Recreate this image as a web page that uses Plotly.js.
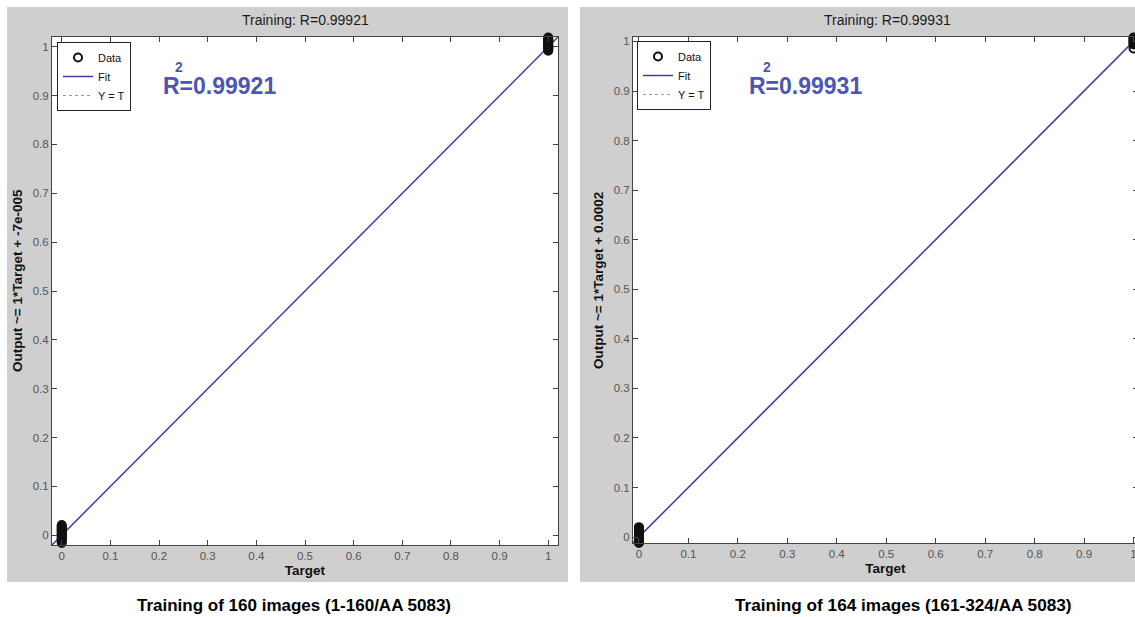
<!DOCTYPE html>
<html>
<head>
<meta charset="utf-8">
<script src="https://cdn.plot.ly/plotly-3.0.1.min.js"></script>
<style>
html, body { margin: 0; padding: 0; overflow: hidden; background: #ffffff; }
#chart { width: 1145px; height: 617px; }
</style>
</head>
<body>
<div id="chart"></div>
<script>
// ---- data ----
const tickValues = [0, 0.1, 0.2, 0.3, 0.4, 0.5, 0.6, 0.7, 0.8, 0.9, 1];
const tickLabels = ["0", "0.1", "0.2", "0.3", "0.4", "0.5", "0.6", "0.7", "0.8", "0.9", "1"];

// Left panel (160 images)
const leftTargets = [0,0,0,0,0,0,0,0,0,0,0,0,0,0,0,0,0,0,0,
                     1,1,1,1,1,1,1,1,1,1,1,1,1,1,1,1];
const leftOutputs = [-0.016,-0.013,-0.010,-0.008,-0.006,-0.004,-0.002,0.000,0.001,0.003,0.005,0.007,0.009,0.011,0.013,0.015,0.017,0.019,0.021,
                     0.992,0.994,0.996,0.998,0.999,1.000,1.001,1.003,1.005,1.007,1.009,1.011,1.013,1.015,1.017,1.019];
const leftFitX = [-0.02, 1.02];
const leftFitY = [-0.02007, 1.01993];
const leftIdentX = [-0.02, 1.02];
const leftIdentY = [-0.02, 1.02];
const leftTitle = "Training: R=0.99921";
const leftR2 = "R=0.99921";
const leftYTitle = "Output ~= 1*Target + -7e-005";
const leftCaption = "Training of 160 images (1-160/AA 5083)";

// Right panel (164 images)
const rightTargets = [0,0,0,0,0,0,0,0,0,0,0,0,0,0,0,0,0,0,
                      1,1,1,1,1,1,1,1,1,1];
const rightOutputs = [-0.014,-0.012,-0.010,-0.008,-0.006,-0.004,-0.002,0.000,0.002,0.004,0.006,0.008,0.010,0.012,0.014,0.016,0.018,0.020,
                      0.986,0.994,0.996,0.998,1.000,1.002,1.004,1.006,1.008,1.010];
const rightFitX = [-0.012, 1.009];
const rightFitY = [-0.0118, 1.0092];
const rightIdentX = [-0.012, 1.009];
const rightIdentY = [-0.012, 1.009];
const rightTitle = "Training: R=0.99931";
const rightR2 = "R=0.99931";
const rightYTitle = "Output ~= 1*Target + 0.0002";
const rightCaption = "Training of 164 images (161-324/AA 5083)";

// ---- layout helpers ----
const W = 1145, H = 617;
const px = v => v / W;
const py = v => 1 - v / H;
const FONT = "Liberation Sans, Arial, Helvetica, sans-serif";
const fitColor = "#3c3ca6";
const r2Color = "#4b56b6";
const panelGray = "#cfcfcf";

function axisBase(domain, range) {
  return {
    domain: domain, range: range, tickmode: "array",
    tickvals: tickValues, ticktext: tickLabels,
    ticks: "inside", ticklen: 5, tickwidth: 1, tickcolor: "#444",
    showline: true, linecolor: "#444", linewidth: 1, mirror: "ticks",
    showgrid: false, zeroline: false,
    tickfont: { family: FONT, size: 11.5, color: "#555" }
  };
}

const traces = [
  { x: leftIdentX, y: leftIdentY, type: "scatter", mode: "lines", name: "Y = T",
    line: { color: "#999", width: 1, dash: "dot" }, xaxis: "x", yaxis: "y", legend: "legend", legendrank: 3 },
  { x: leftFitX, y: leftFitY, type: "scatter", mode: "lines", name: "Fit",
    line: { color: fitColor, width: 1.5 }, xaxis: "x", yaxis: "y", legend: "legend", legendrank: 2 },
  { x: leftTargets, y: leftOutputs, type: "scatter", mode: "markers", name: "Data", cliponaxis: false,
    marker: { symbol: "circle-open", size: 8, color: "#111", line: { width: 2 } },
    xaxis: "x", yaxis: "y", legend: "legend", legendrank: 1 },

  { x: rightIdentX, y: rightIdentY, type: "scatter", mode: "lines", name: "Y = T",
    line: { color: "#999", width: 1, dash: "dot" }, xaxis: "x2", yaxis: "y2", legend: "legend2", legendrank: 3 },
  { x: rightFitX, y: rightFitY, type: "scatter", mode: "lines", name: "Fit",
    line: { color: fitColor, width: 1.5 }, xaxis: "x2", yaxis: "y2", legend: "legend2", legendrank: 2 },
  { x: rightTargets, y: rightOutputs, type: "scatter", mode: "markers", name: "Data", cliponaxis: false,
    marker: { symbol: "circle-open", size: 8, color: "#111", line: { width: 2 } },
    xaxis: "x2", yaxis: "y2", legend: "legend2", legendrank: 1 }
];

const legendStyle = (x, y) => ({
  x: x, y: y, xanchor: "left", yanchor: "top", xref: "paper", yref: "paper",
  bgcolor: "#ffffff", bordercolor: "#222", borderwidth: 1,
  font: { family: FONT, size: 11, color: "#111" }, tracegroupgap: 0, itemwidth: 30
});

const titleFont = { family: FONT, size: 13.5, color: "#111" };
const xa1 = axisBase([px(52), px(558)], [-0.02, 1.02]);
xa1.title = { text: "<b>Target</b>", font: titleFont, standoff: 4 };
const ya1 = axisBase([py(545), py(37)], [-0.02, 1.02]);
const xa2 = axisBase([px(633), px(1138)], [-0.012, 1.009]);
xa2.title = { text: "<b>Target</b>", font: titleFont, standoff: 4 };
xa2.anchor = "y2";
const ya2 = axisBase([py(543), py(37)], [-0.012, 1.009]);
ya2.anchor = "x2";

function note(text, x, y, size, color, xanchor, extra) {
  const a = { text: text, xref: "paper", yref: "paper", x: px(x), y: py(y), showarrow: false,
           xanchor: xanchor || "center", yanchor: "middle",
           font: { family: FONT, size: size, color: color } };
  return Object.assign(a, extra || {});
}

const layout = {
  width: W, height: H,
  margin: { l: 0, r: 0, t: 0, b: 0 },
  paper_bgcolor: "#ffffff", plot_bgcolor: "#ffffff",
  font: { family: FONT },
  showlegend: true,
  xaxis: xa1, yaxis: ya1, xaxis2: xa2, yaxis2: ya2,
  legend: legendStyle(px(57), py(42)),
  legend2: legendStyle(px(637), py(41)),
  shapes: [
    { type: "rect", xref: "paper", yref: "paper", x0: px(7), x1: px(568), y0: py(582), y1: py(7),
      fillcolor: panelGray, line: { width: 0 }, layer: "below" },
    { type: "rect", xref: "paper", yref: "paper", x0: px(580), x1: 1, y0: py(582), y1: py(7),
      fillcolor: panelGray, line: { width: 0 }, layer: "below" },
    { type: "rect", xref: "x domain", yref: "y domain", x0: 0, x1: 1, y0: 0, y1: 1,
      fillcolor: "#ffffff", line: { width: 0 }, layer: "below" },
    { type: "rect", xref: "x2 domain", yref: "y2 domain", x0: 0, x1: 1, y0: 0, y1: 1,
      fillcolor: "#ffffff", line: { width: 0 }, layer: "below" }
  ],
  annotations: [
    note(leftTitle, 305, 20, 14, "#1a1a1a"),
    note(rightTitle, 887, 20, 14, "#1a1a1a"),
    note("<b>" + leftYTitle + "</b>", 17, 281, 13.5, "#111", "center", { textangle: -90 }),
    note("<b>" + rightYTitle + "</b>", 598, 281, 13.5, "#111", "center", { textangle: -90 }),
    note("<b>" + leftR2 + "</b>", 162, 86, 23, r2Color, "left", { height: 22, borderpad: 0 }),
    note("<b>2</b>", 179, 67, 14, r2Color, "center", { height: 12, borderpad: 0 }),
    note("<b>" + rightR2 + "</b>", 748, 86, 23, r2Color, "left", { height: 22, borderpad: 0 }),
    note("<b>2</b>", 767, 67, 14, r2Color, "center", { height: 12, borderpad: 0 }),
    note("<b>" + leftCaption + "</b>", 294, 605, 17, "#000"),
    note("<b>" + rightCaption + "</b>", 903, 605, 17.2, "#000")
  ]
};

Plotly.newPlot("chart", traces, layout, { displayModeBar: false, staticPlot: true });
</script>
</body>
</html>
